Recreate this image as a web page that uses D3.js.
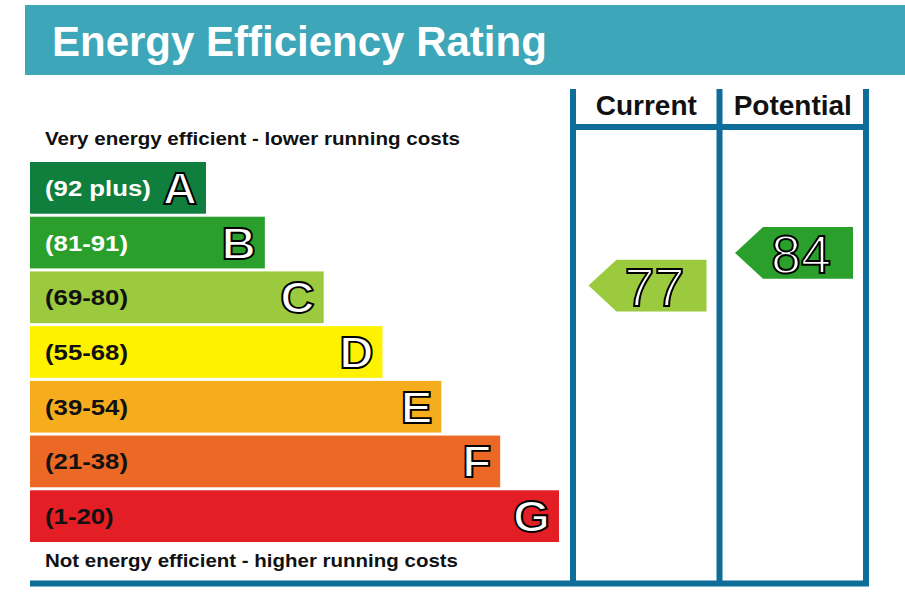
<!DOCTYPE html>
<html>
<head>
<meta charset="utf-8">
<script src="https://cdn.jsdelivr.net/npm/d3@7"></script>
<style>
  body { margin: 0; background: #ffffff; }
  svg { display: block; font-family: "Liberation Sans", Arial, sans-serif; }
</style>
</head>
<body>
<div id="chart"></div>
<script>
// rating bands, top to bottom
const ratings = ["A", "B", "C", "D", "E", "F", "G"];
const rangeLabels = ["(92 plus)", "(81-91)", "(69-80)", "(55-68)", "(39-54)", "(21-38)", "(1-20)"];
const bandLow = [92, 81, 69, 55, 39, 21, 1];
const bandHigh = [100, 91, 80, 68, 54, 38, 20];
const bandColors = ["#107f3e", "#2b9f2c", "#9bca3e", "#fff200", "#f6ad1d", "#ec6925", "#e31e25"];
const labelColors = ["#ffffff", "#ffffff", "#111111", "#111111", "#111111", "#111111", "#111111"];

// score columns
const columns = ["Current", "Potential"];
const scores = [77, 84];

const title = "Energy Efficiency Rating";
const topNote = "Very energy efficient - lower running costs";
const bottomNote = "Not energy efficient - higher running costs";

const width = 905, height = 606;
const frameColor = "#0e6d99";

const svg = d3.select("#chart").append("svg")
  .attr("width", width)
  .attr("height", height);

// header
svg.append("rect")
  .attr("x", 25).attr("y", 5)
  .attr("width", width - 25).attr("height", 70)
  .attr("fill", "#3da6b8");

svg.append("text")
  .attr("x", 52).attr("y", 56)
  .attr("fill", "#ffffff")
  .attr("font-size", 42)
  .attr("font-weight", "bold")
  .text(title);

// scales
const y = d3.scaleBand()
  .domain(ratings)
  .range([162, 542])
  .paddingInner(0.055);

const barEnd = d3.scaleLinear()
  .domain([0, ratings.length - 1])
  .range([206, 559]);

const colX = d3.scaleBand()
  .domain(columns)
  .range([573, 866]);

const barLeft = 30;

// notes
svg.append("text")
  .attr("x", 45).attr("y", 145)
  .attr("font-size", 19)
  .attr("font-weight", "bold")
  .attr("fill", "#111111")
  .attr("textLength", 415)
  .attr("lengthAdjust", "spacingAndGlyphs")
  .text(topNote);

svg.append("text")
  .attr("x", 45).attr("y", 567)
  .attr("font-size", 19)
  .attr("font-weight", "bold")
  .attr("fill", "#111111")
  .attr("textLength", 413)
  .attr("lengthAdjust", "spacingAndGlyphs")
  .text(bottomNote);

// bars
const bands = svg.append("g")
  .selectAll("g")
  .data(ratings)
  .join("g");

bands.append("rect")
  .attr("x", barLeft)
  .attr("y", d => y(d))
  .attr("width", (d, i) => barEnd(i) - barLeft)
  .attr("height", y.bandwidth())
  .attr("fill", (d, i) => bandColors[i]);

bands.append("text")
  .attr("transform", d => `translate(45,${y(d) + y.bandwidth() / 2 + 8}) scale(1.17,1)`)
  .attr("font-size", 22)
  .attr("font-weight", "bold")
  .attr("fill", (d, i) => labelColors[i])
  .text((d, i) => rangeLabels[i]);

bands.append("text")
  .attr("transform", (d, i) => `translate(${barEnd(i) - 9},${y(d) + y.bandwidth() / 2 + 16}) scale(1.08,1)`)
  .attr("text-anchor", "end")
  .attr("font-size", 44)
  .attr("font-weight", "bold")
  .attr("fill", "#ffffff")
  .attr("stroke", "#000000")
  .attr("stroke-width", 1.8)
  .text(d => d);

// frame
const frame = svg.append("g")
  .attr("stroke", frameColor)
  .attr("stroke-width", 6)
  .attr("fill", "none");

const lineXs = columns.map(c => colX(c)).concat([colX.range()[1]]);

frame.selectAll("line.v")
  .data(lineXs)
  .join("line")
  .attr("class", "v")
  .attr("x1", d => d).attr("x2", d => d)
  .attr("y1", 89).attr("y2", 586);

frame.append("line")
  .attr("x1", colX.range()[0] - 3).attr("x2", colX.range()[1] + 3)
  .attr("y1", 127).attr("y2", 127);

frame.append("line")
  .attr("x1", barLeft).attr("x2", colX.range()[1] + 3)
  .attr("y1", 583.5).attr("y2", 583.5);

svg.selectAll("text.col")
  .data(columns)
  .join("text")
  .attr("class", "col")
  .attr("x", d => colX(d) + colX.bandwidth() / 2)
  .attr("y", 115)
  .attr("text-anchor", "middle")
  .attr("font-size", 28)
  .attr("font-weight", "bold")
  .attr("fill", "#111111")
  .text(d => d);

// score arrows
const bandIndex = v => bandLow.findIndex(lo => v >= lo);

const arrowW = 118, tipDepth = 28;
const arrows = svg.append("g")
  .selectAll("g")
  .data(columns.map((c, i) => ({ col: c, value: scores[i] })))
  .join("g")
  .attr("transform", d => {
    const b = bandIndex(d.value);
    const inBand = d3.scaleLinear()
      .domain([bandHigh[b], bandLow[b]])
      .range([y(ratings[b]), y(ratings[b]) + y.bandwidth()]);
    const right = colX(d.col) + colX.bandwidth() - 13;
    return `translate(${right - arrowW},${inBand(d.value)})`;
  });

const h = y.bandwidth();
arrows.append("path")
  .attr("d", `M0,0 L${tipDepth},${-h / 2} L${arrowW},${-h / 2} L${arrowW},${h / 2} L${tipDepth},${h / 2} Z`)
  .attr("fill", d => bandColors[bandIndex(d.value)]);

arrows.append("text")
  .attr("x", 66)
  .attr("y", 20)
  .attr("text-anchor", "middle")
  .attr("font-size", 54)
  .attr("fill", "#ffffff")
  .attr("stroke", "#000000")
  .attr("stroke-width", 2)
  .text(d => d.value);
</script>
</body>
</html>
